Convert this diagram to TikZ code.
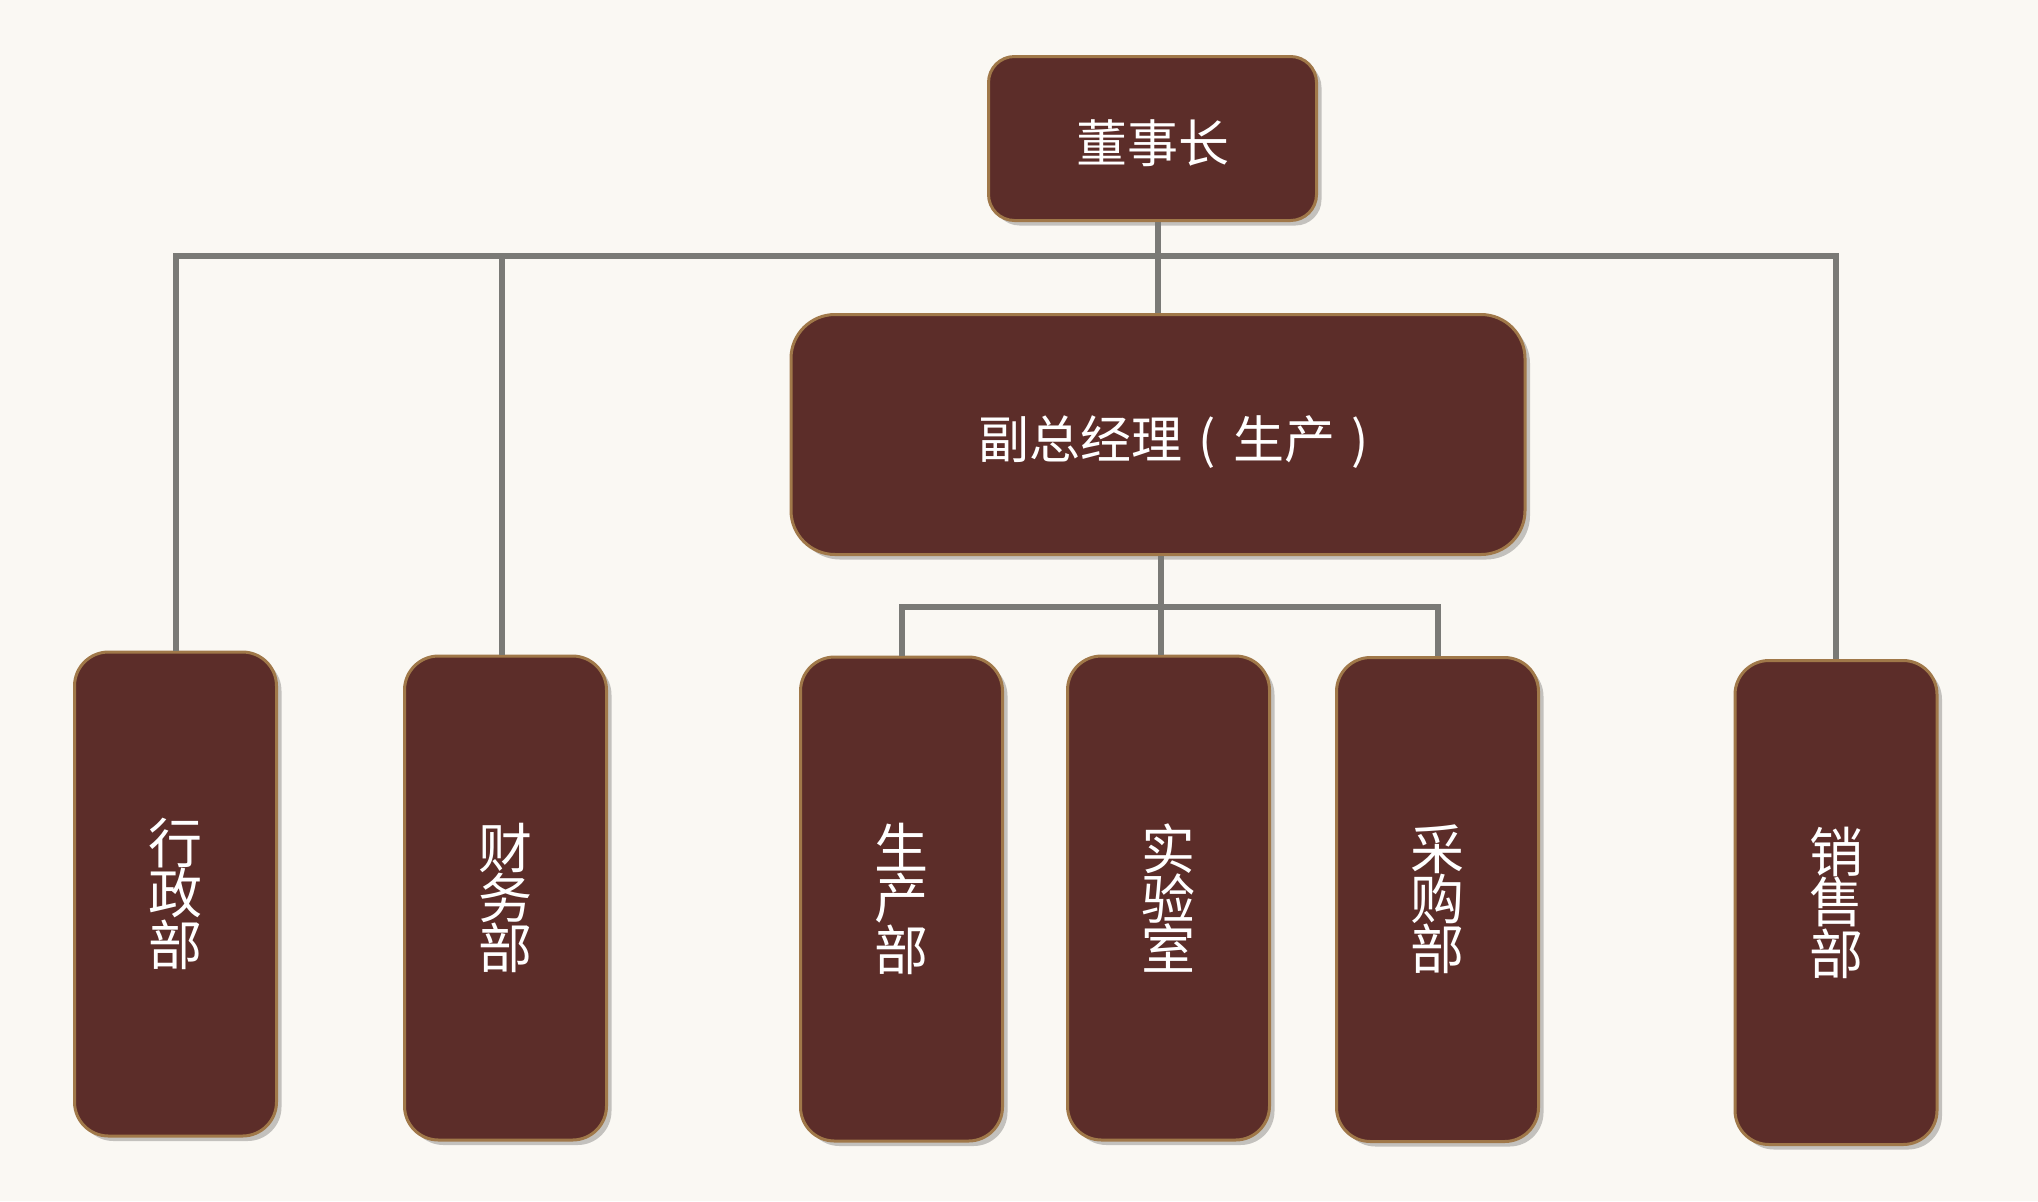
\documentclass[tikz,border=0pt]{standalone}
\usepackage{fontspec}
\newfontfamily\cjk{Noto Sans CJK SC}
\usepackage{xcolor}
\usepackage{tikz}
\usetikzlibrary{positioning, shadows}

\definecolor{boxfill}{HTML}{5C2D29}
\definecolor{boxedge}{HTML}{A07849}
\definecolor{wire}{HTML}{7A7A76}
\definecolor{paper}{HTML}{FAF8F3}

\newcommand{\pbox}[1]{\makebox[1em][c]{#1}}

\begin{document}
\begin{tikzpicture}[x=0.5pt, y=-0.5pt,
    box/.style={draw=boxedge, line width=1.5pt, fill=boxfill, text=white,
        drop shadow={shadow xshift=2.5pt, shadow yshift=-2.5pt, opacity=.22, fill=black},
        font=\cjk\fontsize{25.5pt}{25pt}\selectfont, align=center, inner sep=0pt},
    head/.style={box, text height=27pt, text depth=3pt},
    dept/.style={box, rounded corners=17pt, minimum width=101pt, minimum height=242pt,
        font=\cjk\fontsize{27pt}{25pt}\selectfont},
    link/.style={draw=wire, line width=3pt}]
    \fill[paper] (0,0) rectangle (2038,1201);
    \useasboundingbox (0,0) rectangle (2038,1201);
    % top levels
    \node[head, rounded corners=13pt, minimum width=164pt, minimum height=82pt] (chair) at (1152.5,138.5) {董事长};
    \node[head, rounded corners=22pt, minimum width=367pt, minimum height=120pt] (vp) at (1158,434.5) {\hspace*{24pt}副总经理\pbox{(}生产\pbox{)}};
    % departments
    \node[dept] (admin) at (175.5,894) {行\\政\\部};
    \node[dept] (fin) at (505.5,898) {财\\务\\部};
    \node[dept] (prod) at (901.5,899) {生\\产\\部};
    \node[dept] (lab) at (1168.5,898) {实\\验\\室};
    \node[dept] (purch) at (1437.5,899.5) {采\\购\\部};
    \node[dept] (sales) at (1836,902.5) {销\\售\\部};
    % connectors
    \coordinate (bus) at (1158,256);
    \coordinate (sub) at (1161,607);
    \draw[link] (vp.north) -- (vp.north |- chair.south);
    \draw[link] (admin.north) |- (bus) -| (sales.north);
    \draw[link] ([xshift=-2pt]fin.north) -- ([xshift=-2pt]fin.north |- bus);
    \draw[link] (sub |- vp.south) -- (sub |- lab.north);
    \draw[link] (prod.north) |- (sub) -| (purch.north);
\end{tikzpicture}
\end{document}
